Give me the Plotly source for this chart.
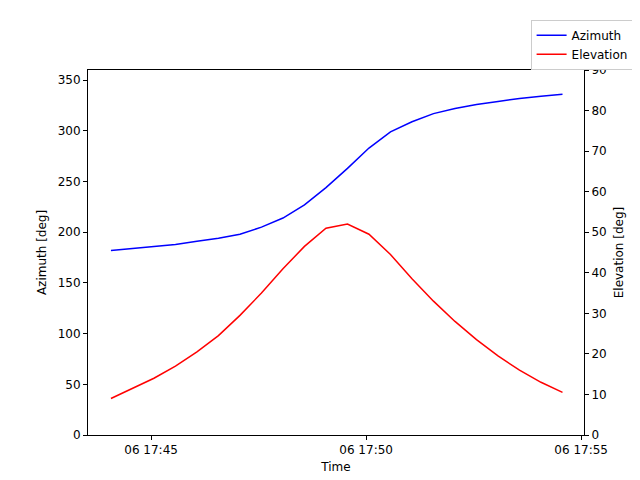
import pandas as pd
import plotly.graph_objects as go

times = pd.date_range("2024-01-06 17:44:04", periods=22, freq="30s")
azimuth = [182, 184, 186, 188, 191, 194, 198, 205, 214, 227, 244, 263,
           283, 299, 309, 317, 322, 326, 329, 332, 334, 336]
elevation = [9, 11.5, 14, 17, 20.5, 24.5, 29.5, 35, 41, 46.5, 51, 52,
             49.5, 44.5, 38.5, 33, 28, 23.5, 19.5, 16, 13, 10.5]

fig = go.Figure()
fig.add_trace(go.Scatter(x=times, y=azimuth, mode="lines", name="Azimuth",
                         line=dict(color="blue", width=1.5)))
fig.add_trace(go.Scatter(x=times, y=elevation, mode="lines", name="Elevation",
                         yaxis="y2", line=dict(color="red", width=1.5)))

axis_style = dict(showgrid=False, zeroline=False, showline=True, linecolor="black",
                  mirror=False, ticks="outside", ticklen=4, tickcolor="black",
                  automargin=False, tickfont=dict(size=12, color="black"))

fig.update_layout(
    width=640, height=480, plot_bgcolor="white", paper_bgcolor="white",
    font=dict(family="DejaVu Sans", size=12, color="black"),
    margin=dict(l=80, r=64, t=58, b=53),
    xaxis=dict(axis_style, title=dict(text="Time", standoff=6, font=dict(size=12)),
               tickformat="%d %H:%M",
               range=["2024-01-06 17:43:32", "2024-01-06 17:55:04"],
               dtick=300000, tick0="2024-01-06 17:45:00", mirror=True),
    yaxis=dict(axis_style, title=dict(text="Azimuth [deg]", standoff=8, font=dict(size=12)),
               range=[0, 360], dtick=50),
    yaxis2=dict(axis_style, title=dict(text="Elevation [deg]", standoff=8, font=dict(size=12)),
                range=[0, 90], dtick=10, overlaying="y", side="right"),
    legend=dict(x=1.1, y=1.138, xanchor="right", yanchor="top",
                bordercolor="#cccccc", borderwidth=1, bgcolor="white",
                font=dict(size=12)),
)

fig.write_html("out.html")
